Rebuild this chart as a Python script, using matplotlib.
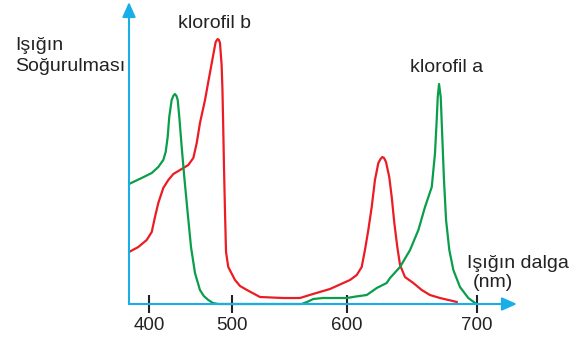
import numpy as np
import matplotlib.pyplot as plt

# wavelength (nm) and absorption (arbitrary units)
chl_a_nm = [376, 391.2, 403.3, 411.2, 417.2, 420.1, 422.5, 424.4, 427.3, 429.5, 431.3, 433.1, 434.6, 436.5,
            439.4, 442.5, 446.6, 450.6, 455.4, 461.4, 466, 471.5, 477, 483.5, 500,
            560.6, 565.2, 570.7, 579.1, 588.1, 599.8, 606.9, 615.2, 622.9, 630.5, 633.1, 640.8, 648.5,
            654.9, 660, 665.2, 667.7, 669, 669.8, 670.8, 672.1, 673.3, 674.6, 676.2, 678.7, 681.8,
            686.9, 693.3, 698.5, 700]
chl_a_val = [120, 126, 131, 137, 144, 152, 167, 187, 204, 208.5, 210, 208, 204, 187,
             157, 127, 91, 57, 31, 14, 8, 4, 1, 0, 0,
             0, 2, 5, 6, 6, 6, 7.5, 9, 16, 21, 26, 37, 54,
             74, 97, 117, 151, 184, 207, 220, 207, 167, 124, 84, 54, 34,
             17, 6, 1, 0]

chl_b_nm = [376, 387.2, 397.2, 403.3, 407.2, 411.2, 417.2, 423.3, 429.3, 439.4, 447.3, 453.4, 457.5,
            461.4, 467.5, 471.4, 477.4, 480.3, 482.7, 484.3, 485.5, 487.5, 488.5, 489.5, 490.3, 491.6,
            492.8, 495.5, 502.6, 507, 513, 524.3, 544.3, 559.1, 570.4, 585.2, 602.3, 607.5, 611.3,
            613.8, 616.4, 619, 621.5, 624.1, 625.8, 627.2, 628.5, 630, 632.5, 634.4, 636.4, 638.7,
            640.8, 644.6, 651, 657.5, 663.8, 671.5, 684.6]
chl_b_val = [52, 57, 64, 72, 87, 101, 116, 124, 130, 135, 139, 146, 161,
             181, 204, 222, 249, 262, 265, 264, 261, 239, 214, 174, 139, 91,
             52, 37, 24, 18, 14, 7, 6, 6, 10, 15, 24, 29, 37,
             54, 74, 97, 124, 141, 145, 147, 146, 142, 127, 107, 81, 57,
             39, 27, 21, 14, 9, 6, 2]

ticks = [400, 500, 600, 700]

# the drawing's wavelength axis is not evenly spaced
nm_pts = [376, 400, 500, 600, 700, 731]
px_pts = [129, 149, 232, 347, 477, 517]

def fwd(x):
    return np.interp(x, nm_pts, px_pts)

def inv(x):
    return np.interp(x, px_pts, nm_pts)

W, H = 578, 345
plt.rcParams['font.family'] = ['Liberation Sans', 'DejaVu Sans']

fig = plt.figure(figsize=(W / 100, H / 100), dpi=100)
ax = fig.add_axes([129 / W, 1 - 304 / H, (517 - 129) / W, (304 - 2) / H])
ax.set_xscale('function', functions=(fwd, inv))
ax.set_xlim(376, 731)
ax.set_ylim(0, 302)

green = '#0a9e4a'
red = '#ec1c24'
blue = '#1aaee8'

ax.plot(chl_b_nm, chl_b_val, color=red, lw=1.6, solid_capstyle='round',
        solid_joinstyle='round', clip_on=False)
ax.plot(chl_a_nm, chl_a_val, color=green, lw=1.6, solid_capstyle='round',
        solid_joinstyle='round', clip_on=False)

for s in ax.spines.values():
    s.set_visible(False)

arrow = dict(arrowstyle='-|>,head_length=0.45,head_width=0.2', color=blue, lw=1.5,
             mutation_scale=20, shrinkA=0, shrinkB=0)
ax.annotate('', xy=(1, 0), xytext=(0, 0), xycoords='axes fraction', arrowprops=arrow)
ax.annotate('', xy=(0, 1), xytext=(0, 0), xycoords='axes fraction', arrowprops=arrow)

ax.set_xticks(ticks)
ax.set_xticklabels([str(t) for t in ticks])
ax.xaxis.set_minor_locator(plt.NullLocator())
ax.tick_params(axis='x', direction='inout', length=13, width=1.5, color='#222222',
               labelsize=13.5, labelcolor='#222222', pad=3)
ax.set_yticks([])

def label(x, y, s):
    fig.text(x / W, 1 - y / H, s, fontsize=14, color='#222222', va='baseline', ha='left')

label(15, 50, 'Işığın')
label(15, 71, 'Soğurulması')
label(178, 28, 'klorofil b')
label(410, 72, 'klorofil a')
label(467, 268, 'Işığın dalga')
label(473, 287, '(nm)')

fig.savefig('out.png', dpi=100)
